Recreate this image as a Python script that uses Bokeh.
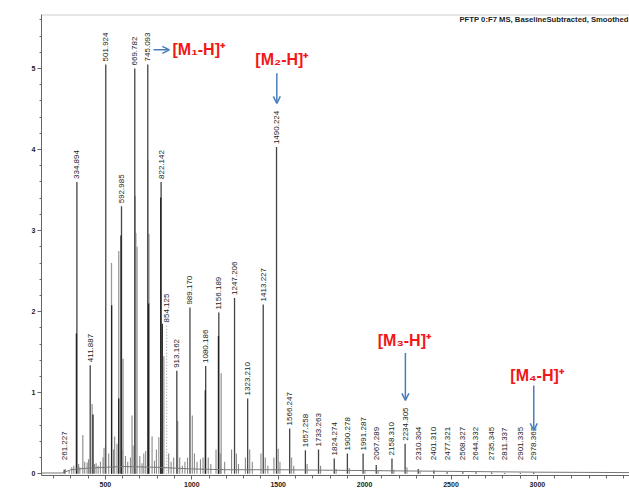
import math
from bokeh.plotting import figure
from bokeh.models import (ColumnDataSource, FixedTicker, SingleIntervalTicker, Label, Arrow,
                          OpenHead, Span, Range1d)
from bokeh.core.properties import value
from bokeh.embed import file_html
from bokeh.resources import INLINE

# ---- data (intensity in units of 1e5 a.u.) ----
label_mz = [261.227, 334.894, 411.887, 501.924, 592.985, 669.782, 745.093, 822.142,
            854.125, 913.162, 989.170, 1080.186, 1156.189, 1247.206, 1323.210,
            1413.227, 1490.224, 1566.247, 1657.258, 1733.263, 1824.274, 1900.278,
            1991.287, 2067.289, 2158.310, 2234.305, 2310.304, 2401.310, 2477.321,
            2568.327, 2644.332, 2735.345, 2811.337, 2901.335, 2978.362]
label_h = [0.05, 3.60, 1.34, 5.05, 3.30, 5.00, 5.05, 3.60,
           1.83, 1.27, 2.05, 1.33, 1.99, 2.17, 0.93,
           2.09, 4.03, 0.56, 0.29, 0.30, 0.19, 0.25,
           0.25, 0.11, 0.19, 0.37, 0.06, 0.04, 0.02,
           0.02, 0.02, 0.015, 0.01, 0.01, 0.015]
dotted_mz = [854.125]

dark_mz = [332, 428, 536, 577, 590, 750, 820, 829, 1078, 1154]
dark_h = [1.73, 0.73, 2.08, 0.93, 2.94, 2.10, 3.41, 1.85, 1.03, 1.70]

gray_mz = [369, 423, 535, 553, 577, 602, 654, 672, 676, 683, 745, 752, 770,
           838, 918, 1003, 1170, 1500, 1577]
gray_h = [0.48, 0.86, 2.60, 0.46, 2.75, 1.42, 0.72, 3.43, 2.97, 2.80, 3.87, 2.96, 0.46,
          1.45, 0.65, 0.72, 1.24, 0.31, 0.20]

noise_mz = [268, 290, 305, 317, 345, 352, 380, 394, 402, 437, 446, 458, 471, 486, 492,
            519, 547, 567, 596, 616, 629, 645, 660, 699, 712, 722, 733, 784, 795, 809,
            866, 880, 895, 930, 945, 960, 975, 1015, 1030, 1050, 1065, 1095, 1110, 1140,
            1165, 1190, 1230, 1258, 1270, 1310, 1335, 1350, 1400, 1425, 1440, 1475, 1510,
            1590, 1667, 1745, 1835, 1911, 2002, 2078, 2169, 2245, 2321]
noise_h = [0.06, 0.04, 0.08, 0.10, 0.12, 0.08, 0.15, 0.14, 0.18, 0.12, 0.13, 0.10, 0.15, 0.20, 0.32,
           0.25, 0.30, 0.37, 0.30, 0.22, 0.15, 0.20, 0.35, 0.22, 0.13, 0.25, 0.28, 0.16, 0.30, 0.45,
           0.25, 0.15, 0.20, 0.20, 0.10, 0.15, 0.20, 0.25, 0.15, 0.18, 0.20, 0.20, 0.12, 0.30,
           0.25, 0.15, 0.30, 0.25, 0.12, 0.20, 0.30, 0.15, 0.25, 0.20, 0.10, 0.20, 0.15,
           0.10, 0.12, 0.10, 0.06, 0.07, 0.05, 0.04, 0.05, 0.08, 0.03]

base_mz = [130, 250, 300, 400, 600, 800, 1000, 1200, 1500, 2000, 2500, 3000, 3533]
base_h = [0.01, 0.01, 0.05, 0.07, 0.09, 0.08, 0.06, 0.05, 0.05, 0.04, 0.03, 0.02, 0.015]

x_major_ticks = [500, 1000, 1500, 2000, 2500, 3000]
x_minor_ticks = list(range(200, 3600, 100))

annot_text = ["[M\u2081-H]\u207a", "[M\u2082-H]\u207a", "[M\u2083-H]\u207a", "[M\u2084-H]\u207a"]

FONT = "Liberation Sans"
BLUE = "#4a7ebb"
RED = "#f01818"

p = figure(width=629, height=496, x_range=Range1d(130, 3533), y_range=Range1d(-0.021, 5.666),
           output_backend="svg", toolbar_location=None,
           min_border_left=41, min_border_right=0, min_border_top=14, min_border_bottom=21)
p.outline_line_color = None
p.grid.visible = False
p.background_fill_color = "white"

# axes
p.xaxis.ticker = FixedTicker(ticks=x_major_ticks, minor_ticks=x_minor_ticks)
p.yaxis.ticker = SingleIntervalTicker(interval=1, num_minor_ticks=5)
for ax in (p.xaxis, p.yaxis):
    ax.axis_line_color = "#666666"
    ax.major_tick_line_color = "#666666"
    ax.minor_tick_line_color = "#666666"
    ax.major_tick_in = 0
    ax.minor_tick_in = 0
    ax.major_tick_out = 4
    ax.major_label_text_font = FONT
    ax.major_label_text_font_size = "7px"
    ax.major_label_text_font_style = "bold"
    ax.major_label_text_color = "#222222"
    ax.major_label_standoff = 2
p.xaxis.minor_tick_out = 3
p.yaxis.minor_tick_out = 2

p.add_layout(Span(location=5.662, dimension="width", line_color="#b0b0b0", line_width=1))

# spectrum
def seg_src(mz, h):
    return ColumnDataSource(dict(x=mz, y0=[0] * len(mz), y1=h))

p.segment(x0="x", y0="y0", x1="x", y1="y1", source=seg_src(noise_mz, noise_h),
          line_color="#8a8a8a", line_width=1.1)
p.segment(x0="x", y0="y0", x1="x", y1="y1", source=seg_src(gray_mz, gray_h),
          line_color="#9a9a9a", line_width=1.3)
solid = [(m, h) for m, h in zip(label_mz, label_h) if m not in dotted_mz]
p.segment(x0="x", y0="y0", x1="x", y1="y1",
          source=seg_src([s[0] for s in solid], [s[1] for s in solid]),
          line_color="#444444", line_width=1.3)
dot = [(m, h) for m, h in zip(label_mz, label_h) if m in dotted_mz]
p.segment(x0="x", y0="y0", x1="x", y1="y1",
          source=seg_src([d[0] for d in dot], [d[1] for d in dot]),
          line_color="#aaaaaa", line_width=1.2, line_dash="1 2")
p.segment(x0="x", y0="y0", x1="x", y1="y1", source=seg_src(dark_mz, dark_h),
          line_color="#222222", line_width=1.3)
p.line(base_mz, base_h, line_color="#777777", line_width=1)

# peak labels
lab_src = ColumnDataSource(dict(x=label_mz, y=[max(h, 0.13) for h in label_h],
                                t=[f"{m:.3f}" for m in label_mz]))
p.text(x="x", y="y", text="t", source=lab_src, angle=math.pi / 2,
       text_font=value(FONT), text_font_size="8px", text_color="#222222",
       text_align="left", text_baseline="middle", y_offset=-3)

# annotations
ann_x = [888, 1521, 2230, 2998]
ann_y = [5.23, 5.11, 1.645, 1.21]
ann_align = ["left", "center", "center", "center"]
for t, x, y, a in zip(annot_text, ann_x, ann_y, ann_align):
    p.add_layout(Label(x=x, y=y, text=t, text_align=a, text_baseline="middle",
                       text_font=FONT, text_font_size="16px", text_font_style="bold",
                       text_color=RED))

arrows = [(778, 5.23, 870, 5.23), (1492, 4.94, 1492, 4.57),
          (2236, 1.49, 2236, 0.905), (2979, 1.09, 2979, 0.535)]
for xs, ys, xe, ye in arrows:
    p.add_layout(Arrow(end=OpenHead(size=7, line_color=BLUE, line_width=1.5),
                       x_start=xs, y_start=ys, x_end=xe, y_end=ye,
                       line_color=BLUE, line_width=1.5))

# header / axis texts
p.add_layout(Label(x=2549, y=5.6, text="PFTP 0:F7 MS, BaselineSubtracted, Smoothed",
                   text_align="left", text_baseline="middle", text_font=FONT,
                   text_font_size="7.7px", text_font_style="bold", text_color="#222222"))
p.add_layout(Label(x=-27, y=5.666, text="Intens. [a.u.]", angle=math.pi / 2,
                   text_align="right", text_baseline="middle", text_font=FONT,
                   text_font_size="7px", text_color="#222222"))
p.add_layout(Label(x=14, y=5.62, text="x10\u2075", text_align="left", text_baseline="middle",
                   text_font=FONT, text_font_size="7px", text_font_style="bold",
                   text_color="#222222"))
p.add_layout(Label(x=3420, y=-0.19, text="m/z", text_align="left", text_baseline="middle",
                   text_font=FONT, text_font_size="7px", text_font_style="bold",
                   text_color="#222222"))

open("out.html", "w").write(file_html(p, INLINE))
